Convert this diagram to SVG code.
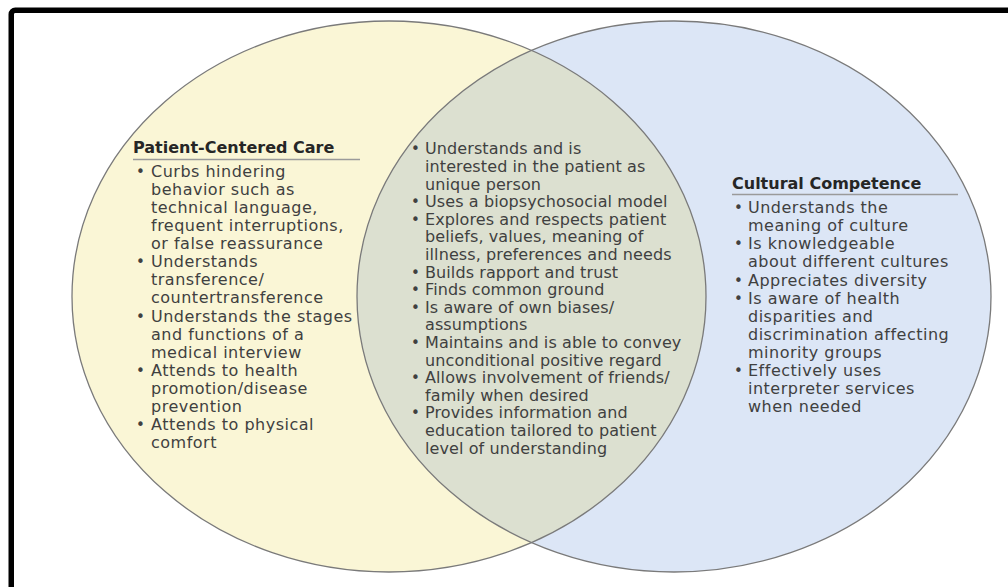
<svg xmlns="http://www.w3.org/2000/svg" width="1008" height="587" viewBox="0 0 1008 587">
<style>
.body{font-family:"DejaVu Sans","Liberation Sans",sans-serif;font-size:16px;fill:#404040;letter-spacing:0.5px}
.mid{letter-spacing:0.1px}
.head{font-family:"DejaVu Sans","Liberation Sans",sans-serif;font-size:16px;font-weight:bold;fill:#262626}
.bul{font-family:"DejaVu Sans","Liberation Sans",sans-serif;font-size:15px;fill:#404040}
.rule{stroke:#9a9a9a;stroke-width:1.3}
.edge{fill:none;stroke:#7a7a7a;stroke-width:1.3}
</style>
<defs>
<clipPath id="clipL"><ellipse cx="389" cy="296.5" rx="317" ry="275.5"/></clipPath>
</defs>
<rect width="1008" height="587" fill="#ffffff"/>
<g id="frame">
<rect x="11.25" y="10.25" width="1100" height="700" rx="4" fill="none" stroke="#000000" stroke-width="5.5"/>
</g>
<g id="patient-centered-care">
<ellipse cx="389" cy="296.5" rx="317" ry="275.5" fill="#faf6d6"/>
</g>
<g id="cultural-competence">
<ellipse cx="674" cy="296.5" rx="317" ry="275.5" fill="#dce6f6"/>
</g>
<g id="shared">
<ellipse cx="674" cy="296.5" rx="317" ry="275.5" fill="#dce0d0" clip-path="url(#clipL)"/>
</g>
<g id="outlines">
<ellipse class="edge" cx="389" cy="296.5" rx="317" ry="275.5"/>
<ellipse class="edge" cx="674" cy="296.5" rx="317" ry="275.5"/>
</g>
<g id="pcc-text">
<text class="head" x="133" y="153">Patient-Centered Care</text>
<line class="rule" x1="133" y1="159.5" x2="360" y2="159.5"/>
<g class="bul">
<text x="136" y="176.7">•</text>
<text x="136" y="267.2">•</text>
<text x="136" y="321.5">•</text>
<text x="136" y="375.8">•</text>
<text x="136" y="430.1">•</text>
</g>
<g class="body">
<text x="151" y="176.7">Curbs hindering</text>
<text x="151" y="194.8">behavior such as</text>
<text x="151" y="212.9">technical language,</text>
<text x="151" y="231">frequent interruptions,</text>
<text x="151" y="249.1">or false reassurance</text>
<text x="151" y="267.2">Understands</text>
<text x="151" y="285.3">transference/</text>
<text x="151" y="303.4">countertransference</text>
<text x="151" y="321.5">Understands the stages</text>
<text x="151" y="339.6">and functions of a</text>
<text x="151" y="357.7">medical interview</text>
<text x="151" y="375.8">Attends to health</text>
<text x="151" y="393.9">promotion/disease</text>
<text x="151" y="412">prevention</text>
<text x="151" y="430.1">Attends to physical</text>
<text x="151" y="448.2">comfort</text>
</g>
</g>
<g id="shared-text">
<g class="bul">
<text x="411" y="154.3">•</text>
<text x="411" y="207.1">•</text>
<text x="411" y="224.7">•</text>
<text x="411" y="277.5">•</text>
<text x="411" y="295.1">•</text>
<text x="411" y="312.7">•</text>
<text x="411" y="347.9">•</text>
<text x="411" y="383.1">•</text>
<text x="411" y="418.3">•</text>
</g>
<g class="body mid">
<text x="425" y="154.3">Understands and is</text>
<text x="425" y="171.9">interested in the patient as</text>
<text x="425" y="189.5">unique person</text>
<text x="425" y="207.1">Uses a biopsychosocial model</text>
<text x="425" y="224.7">Explores and respects patient</text>
<text x="425" y="242.3">beliefs, values, meaning of</text>
<text x="425" y="259.9">illness, preferences and needs</text>
<text x="425" y="277.5">Builds rapport and trust</text>
<text x="425" y="295.1">Finds common ground</text>
<text x="425" y="312.7">Is aware of own biases/</text>
<text x="425" y="330.3">assumptions</text>
<text x="425" y="347.9">Maintains and is able to convey</text>
<text x="425" y="365.5">unconditional positive regard</text>
<text x="425" y="383.1">Allows involvement of friends/</text>
<text x="425" y="400.7">family when desired</text>
<text x="425" y="418.3">Provides information and</text>
<text x="425" y="435.9">education tailored to patient</text>
<text x="425" y="453.5">level of understanding</text>
</g>
</g>
<g id="cc-text">
<text class="head" x="732" y="189.3">Cultural Competence</text>
<line class="rule" x1="732" y1="194.5" x2="958" y2="194.5"/>
<g class="bul">
<text x="734" y="213.3">•</text>
<text x="734" y="249.4">•</text>
<text x="734" y="285.5">•</text>
<text x="734" y="303.5">•</text>
<text x="734" y="375.7">•</text>
</g>
<g class="body">
<text x="748" y="213.3">Understands the</text>
<text x="748" y="231.3">meaning of culture</text>
<text x="748" y="249.4">Is knowledgeable</text>
<text x="748" y="267.4">about different cultures</text>
<text x="748" y="285.5">Appreciates diversity</text>
<text x="748" y="303.5">Is aware of health</text>
<text x="748" y="321.5">disparities and</text>
<text x="748" y="339.6">discrimination affecting</text>
<text x="748" y="357.6">minority groups</text>
<text x="748" y="375.7">Effectively uses</text>
<text x="748" y="393.7">interpreter services</text>
<text x="748" y="411.7">when needed</text>
</g>
</g>
</svg>
